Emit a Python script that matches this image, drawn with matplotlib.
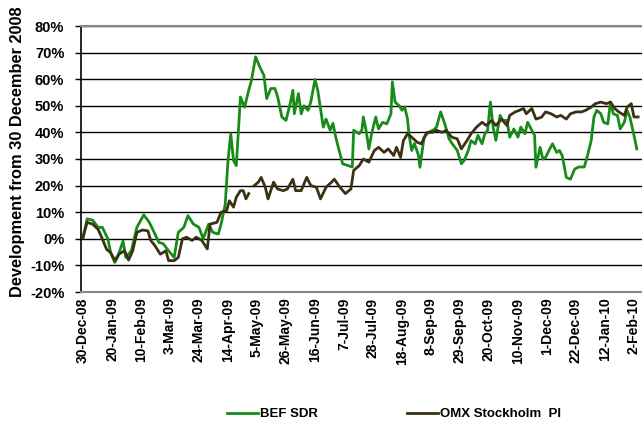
"""
BEF SDR vs OMX Stockholm PI, development from 30 December 2008
"""

import datetime as dt
import numpy as np
import matplotlib
matplotlib.use("Agg")
import matplotlib.pyplot as plt

# start date of the series, offsets below are calendar days from here
start = dt.datetime(2008, 12, 30)

bef_days = [0, 3, 7, 11, 14, 18, 20, 23, 25, 29, 31, 35, 39, 44, 48, 51, 55, 58, 62, 66,
            69, 73, 76, 80, 84, 87, 91, 94, 98, 100, 103, 105, 107, 109, 111, 114, 117, 120,
            122, 125, 128, 131, 133, 136, 139, 141, 144, 147, 150, 152, 153, 156, 158, 160,
            163, 165, 168, 170, 174, 176, 179, 181, 183, 188, 192, 195, 196, 200, 202, 203,
            205, 207, 209, 212, 214, 217, 220, 223, 224, 226, 229, 231, 233, 235, 236, 238,
            240, 243, 244, 247, 250, 254, 256, 259, 262, 265, 267, 271, 274, 276, 279, 281,
            284, 286, 289, 291, 293, 295, 297, 299, 302, 304, 307, 309, 312, 315, 317, 320,
            322, 325, 327, 328, 331, 333, 335, 338, 340, 343, 345, 347, 350, 353, 356, 359,
            363, 365, 368, 370, 372, 375, 377, 380, 382, 384, 387, 389, 392, 394, 396, 399,
            401]
bef_vals = [0.5, 7.5, 7.0, 4.3, 4.3, 0.0, -5.2, -8.9, -7.0, -0.8, -7.0, -4.5, 4.3, 9.0, 6.2,
            3.0, -1.4, -1.8, -4.5, -7.0, 2.4, 4.3, 8.7, 5.5, 4.3, 0.0, 5.5, 2.4, 1.8, 5.5, 13.0,
            29.4, 39.5, 29.4, 27.5, 53.3, 49.5, 55.8, 59.6, 68.4, 64.6, 61.5, 52.7, 56.5, 56.5,
            53.3, 45.8, 44.5, 50.8, 55.8, 47.0, 54.6, 47.0, 50.0, 48.3, 51.6, 59.9, 55.8, 42.0,
            45.0, 40.8, 43.4, 38.2, 28.2, 27.5, 27.0, 40.8, 39.5, 41.0, 45.8, 40.8, 33.8, 39.5,
            45.8, 41.3, 43.8, 43.2, 47.0, 59.0, 51.4, 50.0, 48.3, 49.5, 45.0, 39.5, 33.2, 35.8,
            31.3, 26.9, 38.2, 40.0, 41.0, 42.0, 47.7, 43.2, 37.7, 36.0, 33.2, 28.2, 29.4, 33.2,
            36.9, 35.7, 38.9, 35.7, 39.5, 40.8, 51.4, 42.0, 37.0, 46.4, 44.5, 44.5, 38.2, 41.3,
            38.2, 42.0, 39.5, 43.8, 40.8, 38.9, 26.9, 34.4, 30.0, 30.6, 33.8, 35.7, 32.5, 33.2,
            31.3, 23.1, 22.4, 26.2, 27.0, 27.0, 30.6, 36.9, 45.8, 48.3, 47.0, 43.8, 43.2, 51.4,
            47.0, 46.4, 41.3, 43.8, 48.3, 45.8, 38.9, 33.8]

omx_days = [0, 3, 7, 11, 14, 17, 20, 23, 26, 30, 33, 36, 39, 43, 47, 49, 52, 56, 60, 62,
            66, 69, 72, 75, 79, 82, 86, 90, 92, 97, 100, 104, 106, 109, 111, 114, 116, 118,
            120, 122, 124, 127, 129, 132, 134, 138, 141, 145, 148, 152, 154, 158, 162, 165,
            169, 172, 176, 180, 182, 186, 190, 194, 196, 200, 203, 207, 211, 214, 218, 221,
            225, 227, 230, 232, 235, 238, 242, 245, 249, 253, 256, 260, 263, 267, 271, 274,
            278, 281, 285, 289, 292, 296, 299, 303, 307, 309, 313, 316, 319, 321, 325, 328,
            332, 335, 339, 343, 346, 350, 353, 357, 361, 364, 368, 371, 375, 379, 382, 385,
            388, 392, 394, 397, 399, 402]
omx_vals = [0.5, 6.2, 5.5, 3.5, 0.0, -3.9, -5.2, -8.1, -5.8, -4.5, -8.0, -4.5, 2.4, 3.3, 3.0,
            -0.6, -2.5, -5.8, -4.5, -8.2, -8.2, -7.0, 0.0, 0.6, -0.6, 0.6, -0.6, -3.8, 5.5, 6.2,
            10.0, 10.6, 14.3, 11.9, 15.6, 18.1, 18.1, 15.0, 17.0, np.nan, 20.0, 21.3, 23.1, 19.4,
            15.0, 21.3, 18.7, 18.1, 18.7, 22.4, 18.1, 18.1, 23.1, 20.0, 19.4, 15.0, 19.4, 21.3,
            22.4, 19.4, 17.0, 18.7, 25.7, 27.5, 30.0, 28.8, 33.2, 34.4, 32.5, 33.8, 31.3, 34.4,
            30.6, 36.9, 39.5, 38.2, 36.3, 35.7, 40.0, 40.0, 40.8, 40.0, 40.8, 38.2, 37.6, 33.8,
            36.9, 39.5, 42.0, 43.8, 42.6, 44.5, 42.6, 45.0, 42.6, 46.4, 47.7, 48.3, 49.0, 47.0,
            49.0, 45.0, 45.7, 47.7, 47.0, 45.8, 46.4, 45.0, 47.0, 47.7, 47.7, 48.3, 49.5, 50.8,
            51.4, 50.8, 51.4, 49.0, 47.7, 46.4, 49.5, 50.8, 45.8, 45.8]

tick_labels = ["30-Dec-08", "20-Jan-09", "10-Feb-09", "3-Mar-09", "24-Mar-09", "14-Apr-09",
               "5-May-09", "26-May-09", "16-Jun-09", "7-Jul-09", "28-Jul-09", "18-Aug-09",
               "8-Sep-09", "29-Sep-09", "20-Oct-09", "10-Nov-09", "1-Dec-09", "22-Dec-09",
               "12-Jan-10", "2-Feb-10"]
y_ticks = [-20, -10, 0, 10, 20, 30, 40, 50, 60, 70, 80]


def to_dates(days):
    return [start + dt.timedelta(days=int(d)) for d in days]


def main():
    plt.rcParams["font.family"] = ["Liberation Sans", "DejaVu Sans"]

    fig = plt.figure(figsize=(6.42, 4.32), dpi=100)
    # plot area runs off the right edge like the original
    ax = fig.add_axes([81 / 642, 1 - 292 / 432, 561 / 642, 266 / 432])

    ax.plot(to_dates(bef_days), bef_vals, color="#188c18", lw=2.0, label="BEF SDR", zorder=3)
    ax.plot(to_dates(omx_days), omx_vals, color="#3b3213", lw=2.0, label="OMX Stockholm  PI",
            zorder=4)

    ax.set_ylim(-20, 80)
    ax.set_yticks(y_ticks)
    ax.set_yticklabels([f"{v}%" for v in y_ticks], fontsize=10.5, fontweight="bold")
    ax.yaxis.grid(True, color="black", lw=1.0)
    ax.set_axisbelow(True)

    tick_dates = [start + dt.timedelta(days=21 * i) for i in range(len(tick_labels))]
    ax.set_xticks(tick_dates)
    ax.set_xticklabels(tick_labels, rotation=90, fontsize=10, fontweight="bold")
    ax.set_xlim(start - dt.timedelta(days=1.45), start + dt.timedelta(days=404.8))

    ax.tick_params(axis="x", length=0, pad=4)
    ax.tick_params(axis="y", length=4, width=1, pad=8, direction="out")

    for side in ["top", "bottom"]:
        ax.spines[side].set_color("#888888")
        ax.spines[side].set_linewidth(1.5)
    ax.spines["right"].set_visible(False)
    ax.spines["left"].set_color("black")
    ax.spines["left"].set_linewidth(1.2)

    fig.text(18 / 642, 1 - 152 / 432, "Development from 30 December 2008", rotation=90,
             ha="center", va="center", fontsize=11.8, fontweight="bold")

    fig.legend(loc="center", bbox_to_anchor=(394 / 642, 1 - 414 / 432), ncol=2, frameon=False,
               handlelength=2.3, handletextpad=0.15, columnspacing=6.8,
               prop={"weight": "bold", "size": 9.5})

    fig.savefig("out.png", dpi=100)

    return None


if __name__ == "__main__":
    main()
